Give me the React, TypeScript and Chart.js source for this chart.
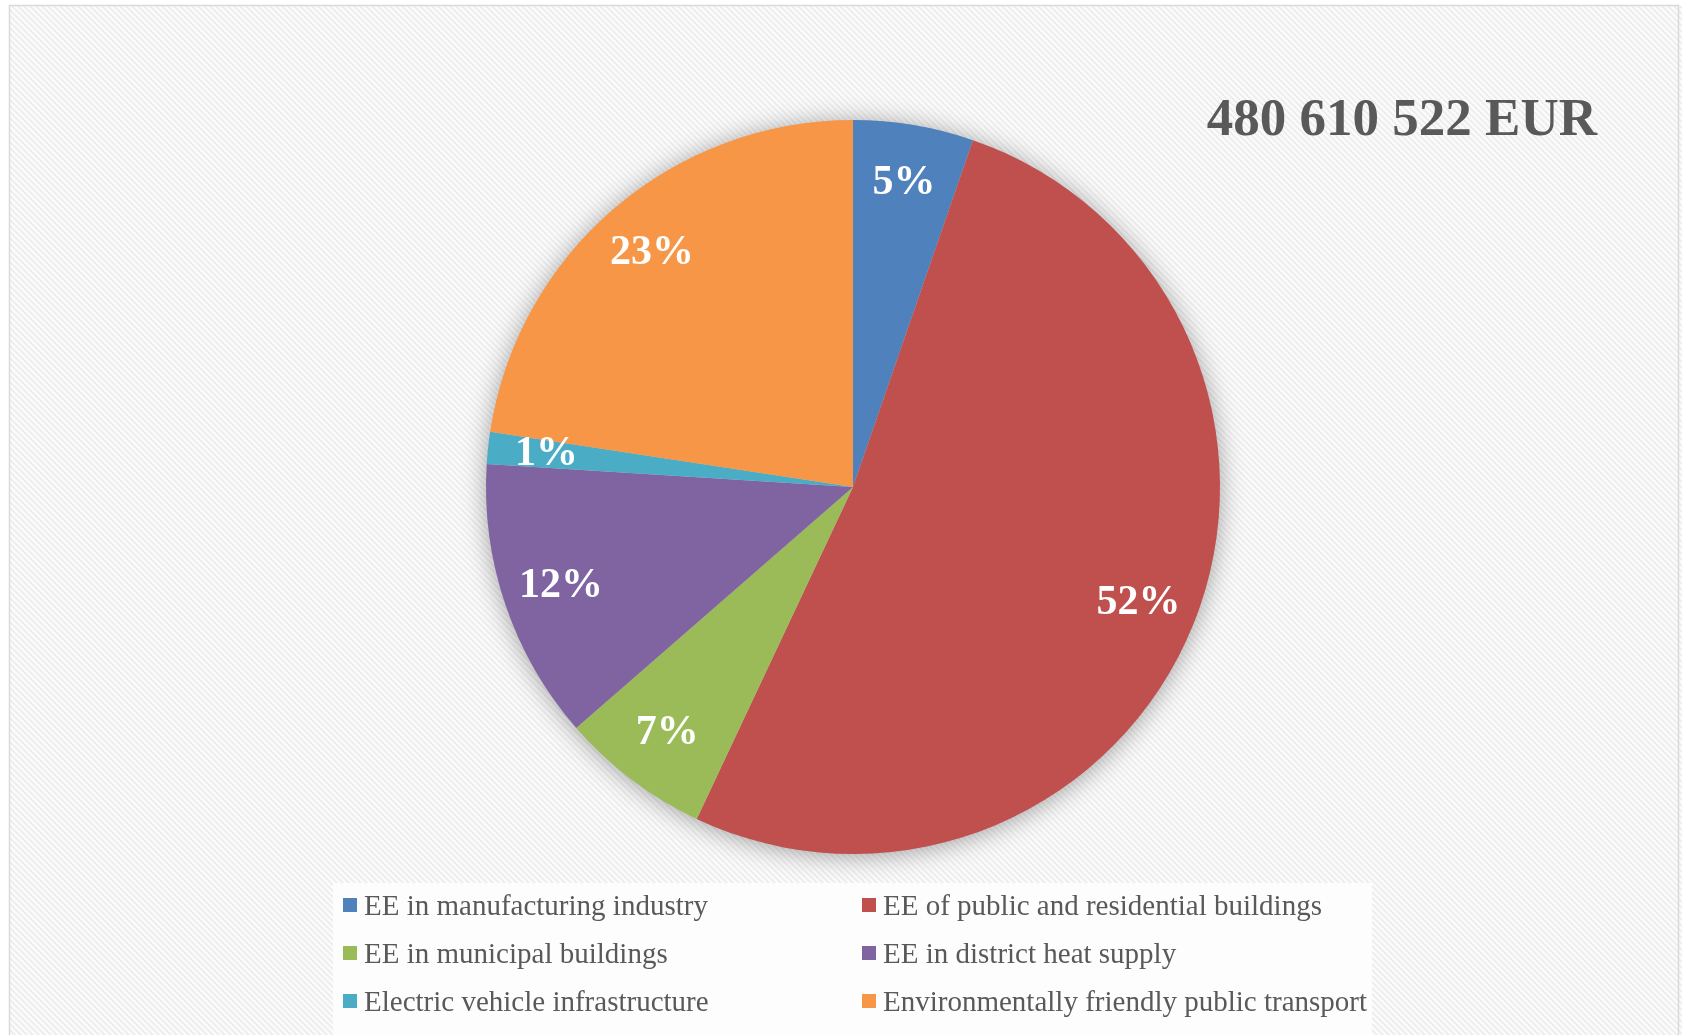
import React, { useEffect, useRef } from "react";
import { Chart, registerables } from "chart.js";

Chart.register(...registerables);

const categories = [
  "EE in manufacturing industry",
  "EE of public and residential buildings",
  "EE in municipal buildings",
  "EE in district heat supply",
  "Electric vehicle infrastructure",
  "Environmentally friendly public transport",
];
const shares = [5.3, 51.7, 6.6, 12.4, 1.4, 22.6];
const sliceColors = ["#4F81BD", "#C0504D", "#9BBB59", "#8064A2", "#4BACC6", "#F79646"];
const totalLabel = "480 610 522 EUR";

const W = 1684;
const H = 1035;

function makePattern(ctx: CanvasRenderingContext2D) {
  const c = document.createElement("canvas");
  c.width = 6;
  c.height = 6;
  const p = c.getContext("2d")!;
  p.fillStyle = "#fbfbfb";
  p.fillRect(0, 0, 6, 6);
  p.strokeStyle = "#ececec";
  p.lineWidth = 1.6;
  p.beginPath();
  p.moveTo(-1, -1);
  p.lineTo(7, 7);
  p.moveTo(-4, 2);
  p.lineTo(4, 10);
  p.moveTo(2, -4);
  p.lineTo(10, 4);
  p.stroke();
  return ctx.createPattern(c, "repeat");
}

const backgroundPlugin = {
  id: "bgPlugin",
  beforeDraw(chart: any) {
    const ctx = chart.ctx as CanvasRenderingContext2D;
    ctx.save();
    ctx.fillStyle = "#ffffff";
    ctx.fillRect(0, 0, W, H);
    const pat = makePattern(ctx);
    if (pat) ctx.fillStyle = pat;
    ctx.fillRect(10, 6, W - 12, H - 6);
    ctx.strokeStyle = "#d9d9d9";
    ctx.lineWidth = 1.5;
    ctx.beginPath();
    ctx.moveTo(9.5, H + 2);
    ctx.lineTo(9.5, 5.5);
    ctx.lineTo(W - 5.5, 5.5);
    ctx.lineTo(W - 5.5, H + 2);
    ctx.stroke();
    ctx.fillStyle = "#fdfdfd";
    ctx.fillRect(333, 883, 1039, H - 883);
    ctx.restore();
  },
};

const shadowPlugin = {
  id: "shadowPlugin",
  beforeDatasetsDraw(chart: any) {
    const meta = chart.getDatasetMeta(0);
    const arc = meta.data[0];
    if (!arc) return;
    const { x, y, outerRadius } = arc.getProps(["x", "y", "outerRadius"], true);
    const ctx = chart.ctx as CanvasRenderingContext2D;
    ctx.save();
    ctx.shadowColor = "rgba(0,0,0,0.38)";
    ctx.shadowBlur = 26;
    ctx.shadowOffsetX = 0;
    ctx.shadowOffsetY = 2;
    ctx.fillStyle = "#c8c8c8";
    ctx.beginPath();
    ctx.arc(x, y, outerRadius - 1, 0, Math.PI * 2);
    ctx.fill();
    ctx.restore();
  },
};

const labelPlugin = {
  id: "labelPlugin",
  afterDatasetsDraw(chart: any) {
    const ctx = chart.ctx as CanvasRenderingContext2D;
    const meta = chart.getDatasetMeta(0);
    const values: number[] = chart.data.datasets[0].data;
    const total = values.reduce((a, b) => a + b, 0);
    ctx.save();
    ctx.fillStyle = "#ffffff";
    ctx.font = "bold 42px 'Liberation Serif', 'Times New Roman', serif";
    ctx.textAlign = "center";
    ctx.textBaseline = "middle";
    meta.data.forEach((arc: any, i: number) => {
      const { x, y, startAngle, endAngle, outerRadius } = arc.getProps(
        ["x", "y", "startAngle", "endAngle", "outerRadius"],
        true
      );
      const mid = (startAngle + endAngle) / 2;
      const r = outerRadius * 0.84;
      const txt = Math.round((values[i] / total) * 100) + "%";
      ctx.fillText(txt, x + Math.cos(mid) * r, y + Math.sin(mid) * r);
    });
    ctx.restore();
  },
};

const titleLegendPlugin = {
  id: "titleLegendPlugin",
  afterDraw(chart: any) {
    const ctx = chart.ctx as CanvasRenderingContext2D;
    ctx.save();
    ctx.fillStyle = "#595959";
    ctx.font = "bold 53px 'Liberation Serif', 'Times New Roman', serif";
    ctx.textAlign = "right";
    ctx.textBaseline = "alphabetic";
    ctx.fillText(totalLabel, 1597, 135);

    const labels: string[] = chart.data.labels;
    const colors: string[] = chart.data.datasets[0].backgroundColor;
    ctx.font = "29px 'Liberation Serif', 'Times New Roman', serif";
    ctx.textAlign = "left";
    labels.forEach((lab, i) => {
      const col = i % 2;
      const row = Math.floor(i / 2);
      const mx = col === 0 ? 343 : 862;
      const base = 915 + row * 48;
      ctx.fillStyle = colors[i];
      ctx.fillRect(mx, base - 17, 14, 14);
      ctx.fillStyle = "#595959";
      ctx.fillText(lab, mx + 21, base);
    });
    ctx.restore();
  },
};

export default function App() {
  const ref = useRef<HTMLCanvasElement | null>(null);
  useEffect(() => {
    document.body.style.margin = "0";
    const canvas = ref.current!;
    const chart = new Chart(canvas, {
      type: "pie",
      data: {
        labels: categories,
        datasets: [
          {
            data: shares,
            backgroundColor: sliceColors,
            borderWidth: 0,
          },
        ],
      },
      options: {
        responsive: false,
        animation: false,
        devicePixelRatio: 1,
        layout: { padding: { left: 486, right: 464, top: 120, bottom: 181 } },
        plugins: {
          legend: { display: false },
          tooltip: { enabled: false },
          title: { display: false },
        },
      },
      plugins: [backgroundPlugin, shadowPlugin, labelPlugin, titleLegendPlugin],
    });
    return () => chart.destroy();
  }, []);
  return <canvas ref={ref} width={W} height={H} style={{ display: "block", width: W, height: H }} />;
}
